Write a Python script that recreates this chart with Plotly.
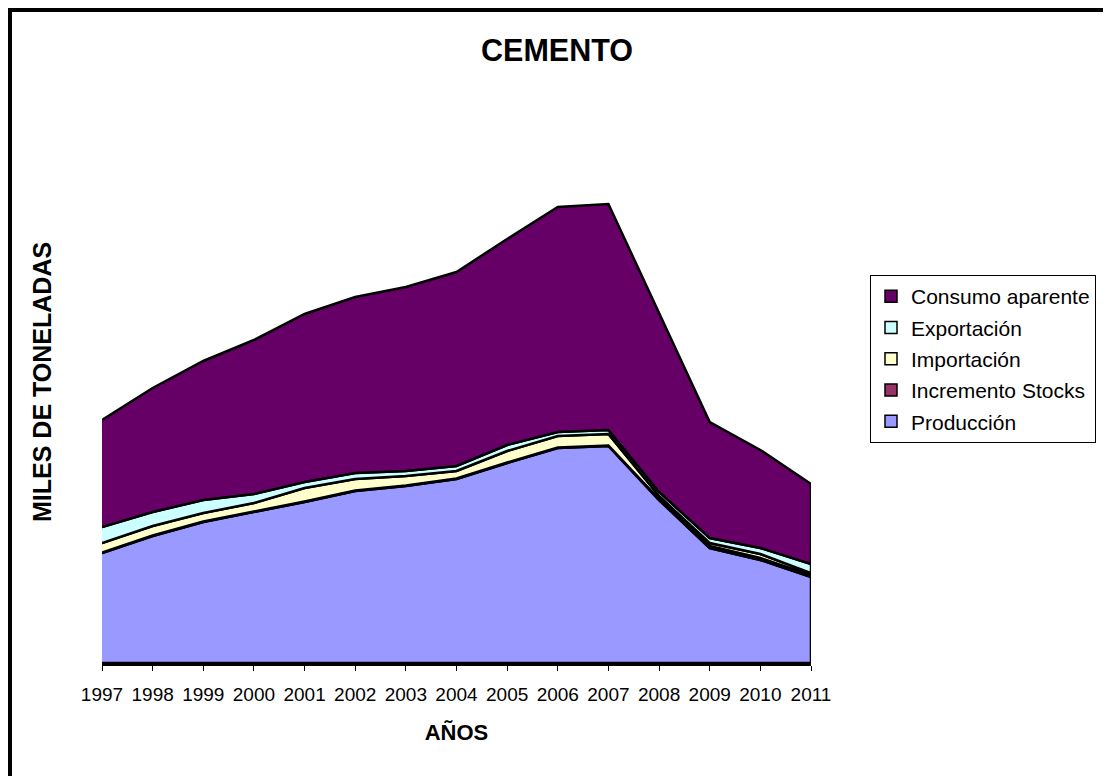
import plotly.graph_objects as go

years = [1997, 1998, 1999, 2000, 2001, 2002, 2003, 2004, 2005, 2006, 2007, 2008, 2009, 2010, 2011]
produccion = [27500, 31750, 35250, 37750, 40250, 43000, 44250, 46000, 50000, 53750, 54250, 40750, 28750, 25750, 21500]
incremento_stocks = [125, 125, 125, 125, 125, 125, 125, 125, 125, 125, 125, 250, 500, 500, 500]
importacion = [2375, 2375, 2125, 2125, 3375, 2875, 2375, 1875, 2875, 2875, 2875, 750, 750, 1000, 500]
exportacion = [4000, 3500, 3250, 2250, 1500, 1500, 1250, 1250, 1500, 1000, 1000, 1000, 1250, 1500, 2250]
consumo_aparente = [26750, 31000, 34750, 38500, 42000, 44000, 46000, 48500, 51500, 56250, 56500, 44750, 29000, 24500, 20000]

series = [
    ("Producción", produccion, "#9999FF"),
    ("Incremento Stocks", incremento_stocks, "#993366"),
    ("Importación", importacion, "#FFFFCC"),
    ("Exportación", exportacion, "#CCFFFF"),
    ("Consumo aparente", consumo_aparente, "#660066"),
]

FONT = "Arial, Liberation Sans, sans-serif"
OFF = 8  # page body margin
W, H = 1111, 776
L = 102 - OFF
pw = 709
R = W - L - pw
axis_y = 663 - OFF
B = H - axis_y
T = 150 - OFF
ph = H - T - B

fig = go.Figure()
base = [0] * len(years)
n = len(series)
for i, (name, vals, color) in enumerate(series):
    top = [b + v for b, v in zip(base, vals)]
    xs = years + years[::-1]
    ys = top + base[::-1]
    fig.add_trace(go.Scatter(
        x=xs, y=ys, mode="lines", fill="toself", fillcolor=color,
        line=dict(color="black", width=2.5), name=name,
        showlegend=False, hoverinfo="skip",
    ))
    base = top

# legend proxies
for i, (name, vals, color) in enumerate(series):
    fig.add_trace(go.Scatter(
        x=[None], y=[None], mode="markers", name=name,
        marker=dict(symbol="square", size=12, color=color, line=dict(color="black", width=1.5)),
        legendgroup=f"g{i}", legendrank=n - i, showlegend=True,
    ))

ymax = ph * 250

fig.update_layout(
    width=W, height=H,
    margin=dict(l=L, r=R, t=T, b=B),
    paper_bgcolor="white", plot_bgcolor="white",
    font=dict(family=FONT, size=19, color="black"),
    title=dict(text="<b>CEMENTO</b>", x=(557 - OFF) / W, xanchor="center",
               y=1 - (50 - OFF) / H, yanchor="middle", font=dict(size=30.5, family=FONT)),
    showlegend=True,
    legend=dict(
        x=(870 - OFF - L) / pw, y=(axis_y - (275 - OFF)) / ph, xanchor="left", yanchor="top",
        bordercolor="black", borderwidth=1, bgcolor="white",
        traceorder="grouped", tracegroupgap=1,
        font=dict(size=21, family=FONT),
        itemwidth=30,
    ),
    xaxis=dict(
        range=[years[0], years[-1]], tickvals=years, ticktext=[str(y) for y in years],
        showgrid=False, zeroline=False, showline=True, linecolor="black", linewidth=2.5,
        ticks="outside", ticklen=5, tickcolor="black", tickwidth=1,
        ticklabelstandoff=7,
        tickfont=dict(size=19, family=FONT),
        title=dict(text="<b>AÑOS</b>", font=dict(size=22, family=FONT), standoff=22),
    ),
    yaxis=dict(
        range=[0, ymax], showgrid=False, zeroline=False, showline=False,
        showticklabels=False, ticks="",
    ),
    annotations=[dict(
        text="<b>MILES DE TONELADAS</b>", textangle=-90, showarrow=False,
        xref="paper", yref="paper",
        x=(42 - OFF - L) / pw, y=(axis_y - (382 - OFF)) / ph,
        xanchor="center", yanchor="middle",
        font=dict(size=25, family=FONT, color="black"),
    )],
    shapes=[dict(
        type="rect", xref="paper", yref="paper",
        x0=(1 - L) / pw, x1=(W + 20 - L) / pw,
        y0=(axis_y - (H + 20)) / ph, y1=(axis_y - 1) / ph,
        line=dict(color="black", width=6), fillcolor="rgba(0,0,0,0)", layer="above",
    )],
)

fig.write_html("out.html")
